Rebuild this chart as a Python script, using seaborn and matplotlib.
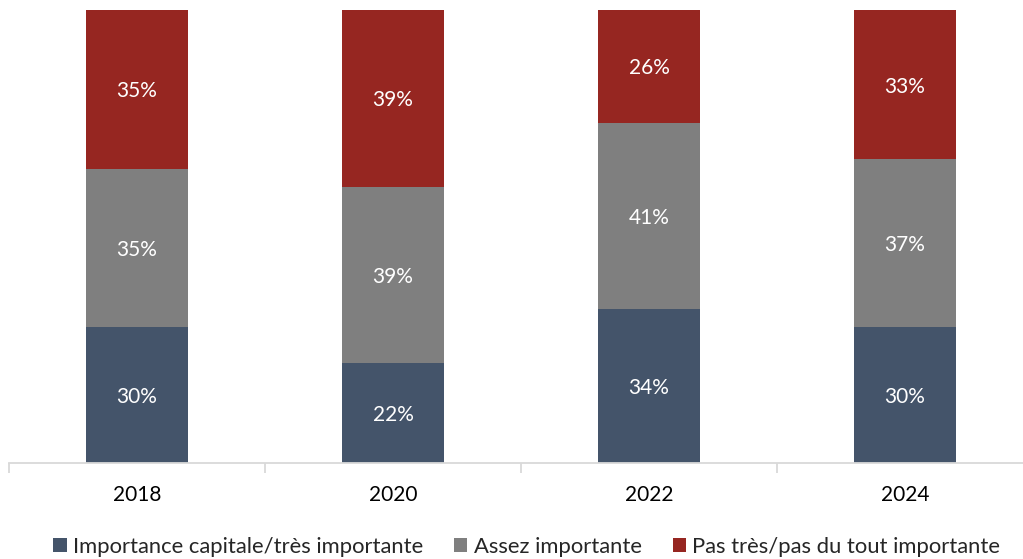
import numpy as np
import pandas as pd
import matplotlib
matplotlib.use("Agg")
import matplotlib.pyplot as plt
import seaborn as sns
from matplotlib.patches import Patch

years = ["2018", "2020", "2022", "2024"]
capitale = [30, 22, 34, 30]
assez = [35, 39, 41, 37]
pas_tres = [35, 39, 26, 33]

series_names = ["Importance capitale/très importante", "Assez importante",
                "Pas très/pas du tout importante"]
colors = ["#44546A", "#7F7F7F", "#962621"]

sns.set_theme(style="white")
plt.rcParams["font.family"] = ["Lato", "DejaVu Sans"]

fig = plt.figure(figsize=(10.23, 5.59), dpi=100)
ax = fig.add_axes([9 / 1023, 96 / 559, 1024 / 1023, 453 / 559])

df = pd.DataFrame({"year": years, "capitale": capitale, "assez": assez, "pas": pas_tres})
layers = [df["capitale"], df["capitale"] + df["assez"],
          df["capitale"] + df["assez"] + df["pas"]]

# Stacked bars: draw the cumulative totals from the tallest down
for cum, color in zip(reversed(layers), reversed(colors)):
    sns.barplot(x=df["year"], y=cum, color=color, width=0.4, ax=ax,
                saturation=1, edgecolor="none", linewidth=0)

# Segment labels centred in each segment
bottoms = np.zeros(len(years))
for vals in [capitale, assez, pas_tres]:
    for i, v in enumerate(vals):
        mid = min(bottoms[i] + v / 2, bottoms[i] + (100 - bottoms[i]) / 2)
        ax.text(i, mid - 0.4, f"{v}%", ha="center", va="center", color="white", fontsize=15)
    bottoms += np.array(vals)

ax.set_ylim(0, 100)
ax.set_xlim(-0.5, 3.5)
ax.set_xlabel("")
ax.set_ylabel("")
ax.set_yticks([])
for s in ["top", "right", "left"]:
    ax.spines[s].set_visible(False)
ax.spines["bottom"].set_color("#D9D9D9")
ax.spines["bottom"].set_linewidth(1.3)

ax.set_xticks(range(len(years)))
ax.set_xticklabels(years, fontsize=15, color="#000000")
ax.tick_params(axis="x", length=0, pad=16)
# Category separators on the axis
ax.set_xticks([-0.5, 0.5, 1.5, 2.5], minor=True)
ax.tick_params(axis="x", which="minor", length=7, width=1.3, color="#D9D9D9",
               direction="out", bottom=True)

handles = [Patch(facecolor=c, edgecolor="none") for c in colors]
fig.legend(handles, series_names, loc="center", bbox_to_anchor=(0.515, 12 / 559),
           ncol=3, frameon=False, fontsize=15.8, handlelength=0.6, handleheight=0.6,
           handletextpad=0.3, columnspacing=1.4)

fig.savefig("out.png", dpi=100)
